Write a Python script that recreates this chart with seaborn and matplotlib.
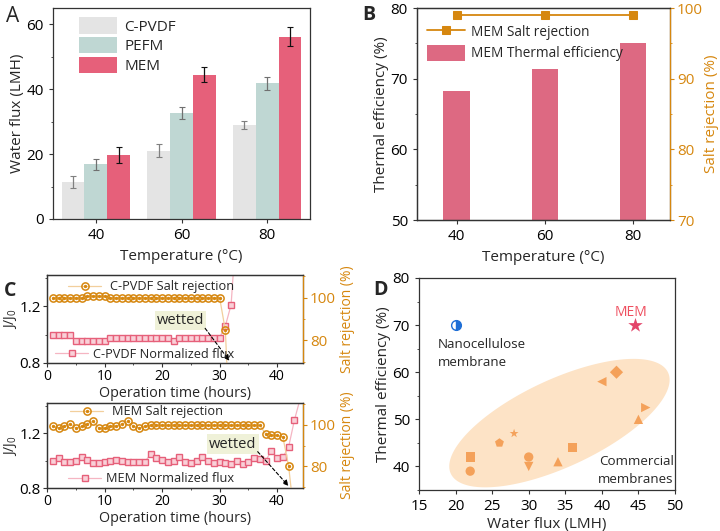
import numpy as np
import pandas as pd
import matplotlib.pyplot as plt
from matplotlib.ticker import MultipleLocator
from matplotlib.legend_handler import HandlerTuple
import seaborn as sns

# ---------------- data ----------------
# A: water flux of the three membranes
temps = ['40', '60', '80']
membranes = ['C-PVDF', 'PEFM', 'MEM']
flux_cpvdf = [11.5, 21.0, 29.0]
flux_pefm = [16.8, 32.7, 41.8]
flux_mem = [19.8, 44.5, 56.2]
err_cpvdf = [1.8, 2.0, 1.3]
err_pefm = [1.8, 1.8, 2.0]
err_mem = [2.5, 2.3, 2.8]

# B: MEM thermal efficiency / salt rejection
eff_mem = [68.3, 71.4, 75.1]
rej_mem = [99.0, 99.0, 99.0]

# C: long run tests (last points run off the axes)
hours_pvdf_rej = list(range(1, 33))
rej_pvdf = [100.0, 100.0, 100.0, 100.0, 100.0, 100.0, 100.7, 100.7, 100.7, 100.7,
            100.0, 100.0, 100.0, 100.0, 100.0, 100.0, 100.0, 100.0, 100.0, 100.0,
            100.0, 100.0, 100.0, 100.0, 100.0, 100.0, 100.0, 100.0, 100.0, 100.0,
            84.8, 25.0]
hours_pvdf_flux = list(range(1, 34))
jn_pvdf = [1.0, 1.0, 1.0, 1.0, 0.957, 0.957, 0.957, 0.957, 0.957, 0.957,
           0.979, 0.979, 0.979, 0.979, 0.979, 0.979, 0.979, 0.979, 0.979, 0.979,
           0.979, 0.957, 0.979, 0.979, 0.979, 0.979, 0.979, 0.979, 0.979, 0.979,
           1.06, 1.21, 1.8]

hours_mem_rej = list(range(1, 44))
rej_mem_run = [99.4, 98.4, 99.4, 100.5, 98.4, 99.4, 100.5, 101.8, 98.4, 98.4,
               99.4, 99.4, 100.5, 101.6, 99.4, 98.4, 99.4, 99.8, 99.8, 99.8,
               99.8, 99.8, 99.8, 99.8, 99.8, 99.8, 99.8, 99.8, 99.8, 99.8,
               99.8, 99.8, 99.8, 99.8, 99.8, 99.8, 99.8, 95.6, 94.9, 94.9,
               94.1, 80.1, 55.0]
hours_mem_flux = list(range(1, 45))
jn_mem = [0.995, 1.016, 0.988, 0.988, 0.998, 1.028, 1.005, 0.981, 0.986, 0.990,
          0.998, 1.005, 0.998, 0.990, 0.990, 0.990, 0.990, 1.047, 1.016, 1.005,
          0.993, 1.000, 1.028, 0.993, 0.986, 0.995, 1.028, 0.995, 0.986, 0.993,
          0.981, 0.972, 1.000, 0.976, 0.993, 1.019, 1.012, 1.000, 1.070, 1.019,
          1.024, 1.099, 1.294, 1.45]

# D: comparison with other membranes
comm_flux = [22, 22, 26, 28, 30, 30, 34, 36, 40, 42, 45, 46]
comm_eff = [42, 39, 45, 47, 42, 40, 41, 44, 58, 60, 50, 52.5]
comm_shape = ['s', 'o', 'p', '*', 'o', 'v', '^', 's', '<', 'D', '^', '>']
nano_flux, nano_eff = [20], [70]
mem_flux, mem_eff = [44.5], [70]

# colours
c_gray = '#e4e4e4'
c_teal = '#bfd7d3'
c_red = '#e6607a'
c_bar_b = '#dd6982'
c_orange = '#d6870f'
c_orange_line = '#f2cf9c'
c_pink_line = '#f5b5c2'
c_comm = '#f4a15a'
c_ell = '#fde3c6'
c_blue = '#1f6fd6'

sns.set_style('ticks')
plt.rcParams['font.family'] = ['Open Sans', 'DejaVu Sans']
plt.rcParams['mathtext.fontset'] = 'custom'
plt.rcParams['mathtext.rm'] = 'Open Sans'
plt.rcParams['mathtext.it'] = 'Open Sans'
plt.rcParams['font.size'] = 10
plt.rcParams['axes.edgecolor'] = '#333333'
plt.rcParams['axes.linewidth'] = 0.9
plt.rcParams['xtick.direction'] = 'out'
plt.rcParams['ytick.direction'] = 'out'
plt.rcParams['xtick.major.size'] = 3
plt.rcParams['ytick.major.size'] = 3
plt.rcParams['xtick.minor.size'] = 1.6
plt.rcParams['ytick.minor.size'] = 1.6
plt.rcParams['xtick.color'] = '#333333'
plt.rcParams['ytick.color'] = '#333333'
plt.rcParams['xtick.labelcolor'] = 'black'
plt.rcParams['ytick.labelcolor'] = 'black'

fig = plt.figure(figsize=(7.2, 5.31), dpi=100)
W, H = 720, 531


def px_axes(left, top, right, bottom):
    return fig.add_axes([left / W, 1 - bottom / H, (right - left) / W, (bottom - top) / H])


# ---------------- A ----------------
axa = px_axes(53, 8, 310, 219)
df_a = pd.DataFrame({
    'temp': temps * 3,
    'membrane': np.repeat(membranes, 3),
    'flux': flux_cpvdf + flux_pefm + flux_mem,
})
sns.barplot(data=df_a, x='temp', y='flux', hue='membrane', hue_order=membranes,
            palette=[c_gray, c_teal, c_red], saturation=1, legend=False,
            linewidth=0, ax=axa)
errs = [err_cpvdf, err_pefm, err_mem]
err_cols = ['#808080', '#707070', '#111111']
for cont, e, ec in zip(axa.containers, errs, err_cols):
    xs = [b.get_x() + b.get_width() / 2 for b in cont]
    ys = [b.get_height() for b in cont]
    axa.errorbar(xs, ys, yerr=e, fmt='none', ecolor=ec, elinewidth=0.9, capsize=2, capthick=0.8)
axa.set_ylim(0, 65)
axa.set_xlim(-0.5, 2.5)
axa.yaxis.set_major_locator(MultipleLocator(20))
axa.yaxis.set_minor_locator(MultipleLocator(10))
axa.set_xlabel('Temperature (°C)')
axa.set_ylabel('Water flux (LMH)', labelpad=1)
axa.legend(axa.containers, membranes, loc='upper left', bbox_to_anchor=(0.1, 0.955),
           frameon=False, fontsize=11, handlelength=2.5, handleheight=1.25,
           labelspacing=0.15, handletextpad=0.5, borderpad=0, borderaxespad=0)

# ---------------- B ----------------
axb = px_axes(417, 8, 670, 220)
sns.barplot(x=temps, y=eff_mem, color=c_bar_b, saturation=1, width=0.3, linewidth=0, ax=axb)
axb.set_ylim(50, 80)
axb.set_xlim(-0.45, 2.42)
axb.yaxis.set_major_locator(MultipleLocator(10))
axb.yaxis.set_minor_locator(MultipleLocator(5))
axb.set_xlabel('Temperature (°C)')
axb.set_ylabel('Thermal efficiency (%)', labelpad=1)
axb2 = axb.twinx()
sns.lineplot(x=np.arange(len(temps)), y=rej_mem, color=c_orange, marker='s',
             markersize=6, markeredgecolor=c_orange, lw=1.3, ax=axb2)
axb2.set_ylim(70, 100)
axb2.yaxis.set_major_locator(MultipleLocator(10))
axb2.yaxis.set_minor_locator(MultipleLocator(5))
axb2.spines['right'].set_color(c_orange)
axb2.tick_params(axis='y', which='both', colors=c_orange, labelcolor=c_orange, pad=2)
axb2.set_ylabel('Salt rejection (%)', color=c_orange, labelpad=1)
axb2.legend([axb2.lines[0], axb.containers[0]], ['MEM Salt rejection', 'MEM Thermal efficiency'],
            loc='upper left', bbox_to_anchor=(0.04, 0.925), frameon=False, fontsize=9.8,
            handlelength=2.8, handleheight=1.4, labelspacing=0.35, handletextpad=0.4,
            borderpad=0, borderaxespad=0)


# ---------------- C ----------------
def run_panel(top, bottom, h_rej, rej, h_flux, jn, name, wet_xy, wet_tip, leg_top, leg_bot):
    ax = px_axes(47, top, 303, bottom)
    sns.lineplot(x=h_flux, y=jn, color=c_pink_line, lw=0.9, marker='s', markersize=3.8,
                 markerfacecolor='#f9d0d8', markeredgecolor=c_red, markeredgewidth=1.0, ax=ax)
    ax.set_xlim(0, 44.5)
    ax.set_ylim(0.8, 1.42)
    ax.xaxis.set_major_locator(MultipleLocator(10))
    ax.xaxis.set_minor_locator(MultipleLocator(5))
    ax.yaxis.set_major_locator(MultipleLocator(0.4))
    ax.yaxis.set_minor_locator(MultipleLocator(0.2))
    ax.set_xlabel('Operation time (hours)', labelpad=1, fontsize=10.3)
    ax.set_ylabel('J/J$_0$', labelpad=0)
    ax2 = ax.twinx()
    sns.lineplot(x=h_rej, y=rej, color=c_orange_line, lw=0.9, marker='o', markersize=5.2,
                 markerfacecolor='none', markeredgecolor=c_orange, markeredgewidth=1.1, ax=ax2)
    dots, = ax2.plot(h_rej, rej, ls='none', marker='o', markersize=1.4, color=c_orange)
    ax2.set_ylim(69.5, 110.5)
    ax2.yaxis.set_major_locator(MultipleLocator(20))
    ax2.yaxis.set_minor_locator(MultipleLocator(10))
    ax2.spines['right'].set_color(c_orange)
    ax2.tick_params(axis='y', which='both', colors=c_orange, labelcolor=c_orange,
                    labelsize=11, pad=2)
    ax2.set_ylabel('Salt rejection (%)', color=c_orange, labelpad=3)
    ax.tick_params(axis='y', labelsize=11, pad=1.5)
    ax.tick_params(axis='x', pad=1.5)
    ax2.text(*wet_xy, 'wetted', transform=ax.transData, ha='center', va='center', fontsize=10.5,
             bbox=dict(boxstyle='square,pad=0.15', fc='#eff1d8', ec='none'))
    ax2.annotate('', xy=wet_tip, xytext=(wet_xy[0] + 4.0, wet_xy[1] - 0.04),
                 xycoords=ax.transData, textcoords=ax.transData,
                 arrowprops=dict(arrowstyle='-|>', ls=(0, (3, 2)), lw=0.8, color='black',
                                 mutation_scale=8))
    leg1 = ax2.legend([(ax2.lines[0], dots)], [name + ' Salt rejection'],
                      handler_map={tuple: HandlerTuple(ndivide=1)},
                      loc='center left', bbox_to_anchor=leg_top, frameon=False, fontsize=9.2,
                      handlelength=2.6, handletextpad=0.7, borderpad=0, borderaxespad=0)
    ax2.add_artist(leg1)
    ax2.legend([ax.lines[0]], [name + ' Normalized flux'], loc='center left',
               bbox_to_anchor=leg_bot, frameon=False, fontsize=9.2,
               handlelength=2.6, handletextpad=0.35, borderpad=0, borderaxespad=0)
    return ax


axc1 = run_panel(275, 363, hours_pvdf_rej, rej_pvdf, hours_pvdf_flux, jn_pvdf, 'C-PVDF',
                 (23.2, 1.10), (32.0, 0.8), (0.083, 0.865), (0.032, 0.10))
axc2 = run_panel(403, 488, hours_mem_rej, rej_mem_run, hours_mem_flux, jn_mem, 'MEM',
                 (32.3, 1.12), (42.3, 0.8), (0.09, 0.895), (0.083, 0.106))

# ---------------- D ----------------
axd = px_axes(419, 278, 675, 490)
# shaded region round the commercial membranes
t = np.linspace(0, 2 * np.pi, 200)
axd.fill(34.2 + 14.85 * np.cos(t) - 2.53 * np.sin(t),
         49.2 + 10.74 * np.cos(t) + 8.40 * np.sin(t), color=c_ell, lw=0, zorder=0)
sns.scatterplot(x=comm_flux, y=comm_eff, style=comm_shape, markers={m: m for m in comm_shape},
                color=c_comm, s=45, linewidth=0, legend=False, ax=axd, zorder=3)
axd.plot(nano_flux, nano_eff, ls='none', marker='o', markersize=7, fillstyle='right',
         color=c_blue, markerfacecoloralt='white', markeredgecolor=c_blue, markeredgewidth=1)
sns.scatterplot(x=mem_flux, y=mem_eff, marker='*', s=120, color='#e3456a', linewidth=0,
                legend=False, ax=axd, zorder=4)
axd.text(44.0, 72.7, 'MEM', color='#ef4f5f', ha='center', va='center', fontsize=10)
axd.text(17.6, 64.0, 'Nanocellulose\nmembrane', ha='left', va='center', fontsize=9.6,
         linespacing=1.5)
axd.text(49.8, 39.1, 'Commercial\nmembranes', ha='right', va='center', fontsize=9.6,
         linespacing=1.5, multialignment='right')
axd.set_xlim(15, 50)
axd.set_ylim(35, 80)
axd.xaxis.set_major_locator(MultipleLocator(5))
axd.yaxis.set_major_locator(MultipleLocator(10))
axd.yaxis.set_minor_locator(MultipleLocator(5))
axd.set_xlabel('Water flux (LMH)', labelpad=2)
axd.set_ylabel('Thermal efficiency (%)', labelpad=1)

for ax in [axa, axb, axd]:
    ax.tick_params(labelsize=11)
    ax.xaxis.label.set_size(11)
    ax.yaxis.label.set_size(11)
axb2.tick_params(labelsize=11)
axb2.yaxis.label.set_size(11)

fig.text(6 / W, 1 - 16 / H, 'A', fontsize=15, va='center', ha='left')
fig.text(362 / W, 1 - 15 / H, 'B', fontsize=14, fontweight='bold', va='center', ha='left')
fig.text(4 / W, 1 - 291 / H, 'C', fontsize=14, fontweight='bold', va='center', ha='left')
fig.text(373 / W, 1 - 290 / H, 'D', fontsize=14, fontweight='bold', va='center', ha='left')

plt.savefig('out.png', dpi=100)
plt.close()
